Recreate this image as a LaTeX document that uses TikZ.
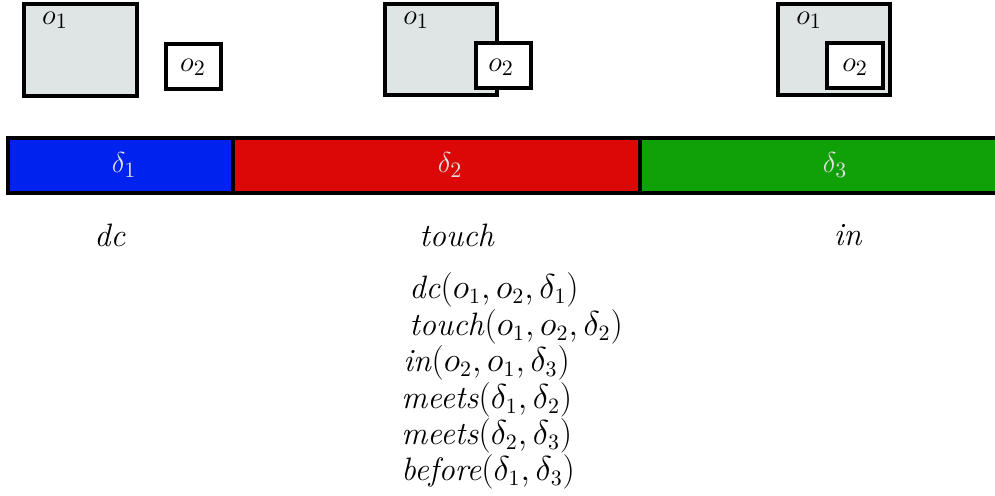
\documentclass[tikz,border=0pt]{standalone}
\begin{document}
\begin{tikzpicture}[x=0.5pt,y=-0.5pt,
  txt/.style={font=\fontsize{15}{18}\selectfont, inner sep=0pt},
  bigtxt/.style={font=\fontsize{16.2}{20}\selectfont, inner sep=0pt},
  obj/.style={draw=black, line width=1.6pt},
  bigobj/.style={obj, fill=boxgray},
  smallobj/.style={obj, fill=white},
  seg/.style={line width=1.6pt, draw=black},
  seglabel/.style={txt, text=white!88!black},
  fact/.style={bigtxt, anchor=west}]
\definecolor{boxgray}{RGB}{223,228,228}
\definecolor{segblue}{RGB}{0,34,238}
\definecolor{segred}{RGB}{220,8,8}
\definecolor{seggreen}{RGB}{16,160,8}
\useasboundingbox (0,0) rectangle (995,495);
\clip (0,0) rectangle (995,495);

% disconnected
\draw[bigobj] (24,4) rectangle (137,96);
\node[txt] (a1) at (55,20) {$o_1$};
\draw[smallobj] (166,44) rectangle (221,89);
\node[txt] (a2) at (193,67) {$o_2$};

% touching
\draw[bigobj] (385,4) rectangle (497,95);
\node[txt] (b1) at (416,20) {$o_1$};
\draw[smallobj] (476,43) rectangle (531,88);
\node[txt] (b2) at (501,67) {$o_2$};

% inside
\draw[bigobj] (778,4) rectangle (890,95);
\node[txt] (c1) at (809,20) {$o_1$};
\draw[smallobj] (827,43) rectangle (883,88);
\node[txt] (c2) at (855,67) {$o_2$};

% time line
\fill[segblue] (8,138) rectangle (233,193);
\fill[segred] (233,138) rectangle (640,193);
\fill[seggreen] (640,138) rectangle (1000,193);
\draw[seg] (1000,138) -- (8,138) -- (8,193) -- (1000,193);
\draw[line width=2pt] (233,138) -- (233,193);
\draw[line width=2pt] (640,138) -- (640,193);
\node[seglabel] (d1) at (124,165) {$\delta_1$};
\node[seglabel] (d2) at (450,165) {$\delta_2$};
\node[seglabel] (d3) at (835,165) {$\delta_3$};

% relation names
\node[bigtxt] (r1) at (110,235) {\textit{dc}};
\node[bigtxt] (r2) at (457,235) {\textit{touch}};
\node[bigtxt] (r3) at (848,235) {\textit{in}};

% facts
\node[fact] (f1) at (409,290) {\textit{dc}$(o_1,o_2,\delta_1)$};
\node[fact] (f2) at (409,327) {\textit{touch}$(o_1,o_2,\delta_2)$};
\node[fact] (f3) at (403,363) {\textit{in}$(o_2,o_1,\delta_3)$};
\node[fact] (f4) at (401,400) {\textit{meets}$(\delta_1,\delta_2)$};
\node[fact] (f5) at (401,436) {\textit{meets}$(\delta_2,\delta_3)$};
\node[fact] (f6) at (401,472) {\textit{before}$(\delta_1,\delta_3)$};
\end{tikzpicture}
\end{document}
